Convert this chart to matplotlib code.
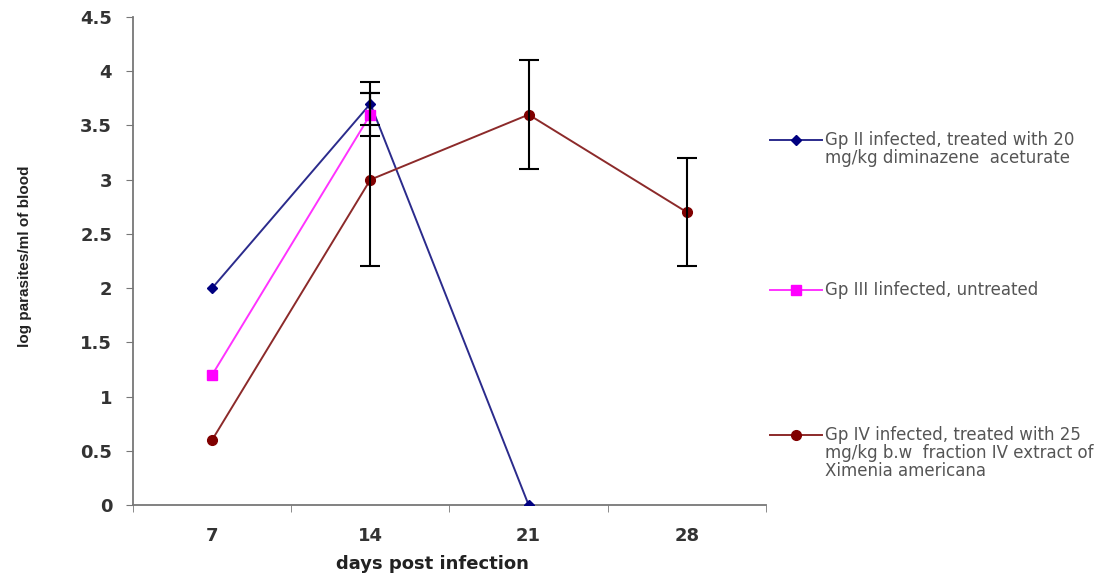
import matplotlib
matplotlib.use('Agg')
from matplotlib import pyplot as plt
from matplotlib.lines import Line2D

# data
days = ['7', '14', '21', '28']

gp2_vals = [2.0, 3.7, 0.0]
gp2_err = [0, 0.2, 0]

gp3_vals = [1.2, 3.6]
gp3_err = [0, 0.2]

gp4_vals = [0.6, 3.0, 3.6, 2.7]
gp4_err = [0, 0.8, 0.5, 0.5]

labels = ['Gp II infected, treated with 20\nmg/kg diminazene  aceturate',
          'Gp III Iinfected, untreated',
          'Gp IV infected, treated with 25\nmg/kg b.w  fraction IV extract of\nXimenia americana']

plt.rcParams['font.family'] = ['DejaVu Sans']

fig = plt.figure(figsize=(11.14, 5.77), dpi=100)
ax = fig.add_axes([0.1194, 0.1248, 0.5682, 0.8457])

styles = [
    (gp2_vals, gp2_err, '#2b2b8c', '#000080', 'D', 5),
    (gp3_vals, gp3_err, '#ff33ff', '#ff00ff', 's', 7),
    (gp4_vals, gp4_err, '#8c2a2a', '#800000', 'o', 7),
]

for vals, err, lc, mc, mk, ms in styles:
    x = list(range(1, len(vals) + 1))
    ax.plot(x, vals, color=lc, lw=1.4, marker=mk, ms=ms,
            markerfacecolor=mc, markeredgecolor=mc, zorder=3)
    ex = [xi for xi, e in zip(x, err) if e > 0]
    ey = [v for v, e in zip(vals, err) if e > 0]
    ee = [e for e in err if e > 0]
    ax.errorbar(ex, ey, yerr=ee, fmt='none', ecolor='black', elinewidth=1.5,
                capsize=7, capthick=1.5, zorder=4)

ax.set_xlim(0.5, 4.5)
ax.set_ylim(0, 4.5)
ax.set_yticks([0, 0.5, 1, 1.5, 2, 2.5, 3, 3.5, 4, 4.5])
ax.set_yticklabels(['0', '0.5', '1', '1.5', '2', '2.5', '3', '3.5', '4', '4.5'])
ax.set_xticks([1, 2, 3, 4])
ax.set_xticklabels(days)
ax.set_xticks([0.5, 1.5, 2.5, 3.5, 4.5], minor=True)
ax.tick_params(axis='x', which='major', length=0, pad=16)
ax.tick_params(axis='x', which='minor', length=5, color='#777777', direction='out')
ax.tick_params(axis='y', length=5, color='#777777', direction='out', pad=10)
for lab in ax.get_xticklabels() + ax.get_yticklabels():
    lab.set_fontsize(13)
    lab.set_fontweight('bold')
    lab.set_color('#333333')

for s in ['top', 'right']:
    ax.spines[s].set_visible(False)
for s in ['left', 'bottom']:
    ax.spines[s].set_color('#777777')
    ax.spines[s].set_linewidth(1.3)

fig.text(0.388, 0.022, 'days post infection', ha='center', va='center',
         fontsize=13, fontweight='bold', color='#222222')
fig.text(0.022, 0.556, 'log parasites/ml of blood', ha='center', va='center',
         rotation=90, fontsize=11, fontweight='bold', color='#222222',
         family='Liberation Sans')

# legend drawn by hand to keep the wide spacing of the original
leg_y = [1 - 140 / 577, 1 - 290 / 577, 1 - 435 / 577]
for (vals, err, lc, mc, mk, ms), lab, y in zip(styles, labels, leg_y):
    fig.add_artist(Line2D([770 / 1114, 822 / 1114], [y, y], color=lc, lw=1.4))
    fig.add_artist(Line2D([796 / 1114], [y], color=lc, marker=mk, ms=ms,
                          markerfacecolor=mc, markeredgecolor=mc, lw=0))
    fig.text(825 / 1114, y + 9 / 577, lab, ha='left', va='top', fontsize=12,
             color='#555555', linespacing=1.0)

fig.savefig('out.png', dpi=100)
